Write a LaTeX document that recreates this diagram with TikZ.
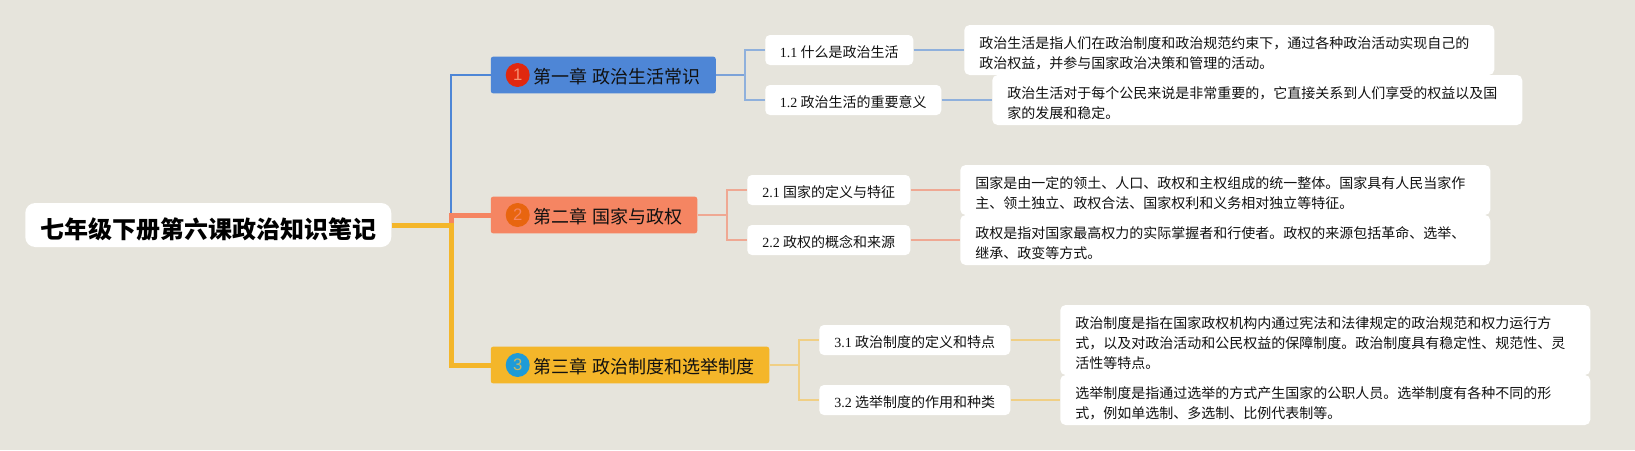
\documentclass[tikz,border=0pt]{standalone}
\usepackage{fontspec}
\setmainfont{Noto Sans CJK SC}
\newfontfamily\latinpart{Liberation Serif}
\newfontfamily\numpart{Liberation Sans}
\definecolor{bgc}{HTML}{E6E4DC}
\definecolor{bluec}{HTML}{4E86D6}
\definecolor{orangec}{HTML}{F58562}
\definecolor{yellowc}{HTML}{F4B62A}
\definecolor{bluel}{HTML}{8FB0DC}
\definecolor{orangel}{HTML}{EFA893}
\definecolor{yellowl}{HTML}{F0CF85}
\definecolor{inkc}{HTML}{111111}
\definecolor{dotred}{HTML}{E0280F}
\definecolor{dotorange}{HTML}{E8650F}
\definecolor{dotblue}{HTML}{1E9BD7}
\tikzset{
  x=0.75pt,y=-0.75pt,
  rootbox/.style={anchor=west,fill=white,rounded corners=7.5pt,minimum height=33pt,minimum width=274.5pt,inner sep=0pt,
    text height=22pt,text depth=2pt,font=\fontsize{18}{22}\selectfont\bfseries,text=black},
  chapbox/.style={anchor=west,rounded corners=1.8pt,minimum height=27.5pt,inner ysep=0pt,inner xsep=3.75pt,align=left,
    text width=#1*0.75pt-7.5pt,font=\fontsize{13.5}{16}\selectfont,text=inkc,execute at begin node={\rule{0pt}{14.1pt}}},
  subbox/.style={anchor=west,fill=white,rounded corners=3.5pt,minimum height=22.5pt,inner sep=0pt,
    text height=13pt,text depth=2pt,minimum width=#1*0.75pt,font=\fontsize{10.5}{13}\selectfont,text=inkc},
  detailbox/.style={anchor=west,fill=white,rounded corners=4pt,inner ysep=0pt,inner xsep=11.25pt,align=left,
    text width=#1*0.75pt-22.5pt,font=\fontsize{10.5}{15}\selectfont,text=inkc,execute at begin node={\rule{0pt}{13.8pt}}},
  numdot/.style={circle,minimum size=18pt,inner sep=0pt,font=\fontsize{12.5}{13}\selectfont\numpart},
  trunk/.style={line width=3.75pt},
  twig/.style={line width=1.5pt},
}
\newcommand{\chgap}{\hspace{0.27em}}
\newcommand{\fwc}{\char"FF0C\relax}
\begin{document}
\begin{tikzpicture}
\useasboundingbox[fill=bgc] (0,0) rectangle (1635,450);
\node[rootbox] (root) at (25,225) {七年级下册第六课政治知识笔记};

\node[chapbox=225,fill=bluec] (c1) at (490.5,75) {\hspace*{28.1pt}第一章\chgap{}政治生活常识};
\node[chapbox=206.5,fill=orangec] (c2) at (490.5,215) {\hspace*{28.1pt}第二章\chgap{}国家与政权};
\node[chapbox=278.5,fill=yellowc] (c3) at (490.5,365) {\hspace*{28.1pt}第三章\chgap{}政治制度和选举制度};
\node[numdot,fill=dotred,text=orangec!90!white] (n1) at (517.7,75) {1};
\node[numdot,fill=dotorange,text=orangec] (n2) at (517.7,215) {2};
\node[numdot,fill=dotblue,text=yellowc!75!dotblue!90!white] (n3) at (517.7,365) {3};

\node[subbox=148] (s11) at (765,50) {{\latinpart 1.1} 什么是政治生活};
\node[subbox=176] (s12) at (765,100) {{\latinpart 1.2} 政治生活的重要意义};
\node[subbox=163] (s21) at (747,190) {{\latinpart 2.1} 国家的定义与特征};
\node[subbox=163] (s22) at (747,240) {{\latinpart 2.2} 政权的概念和来源};
\node[subbox=191] (s31) at (819,340) {{\latinpart 3.1} 政治制度的定义和特点};
\node[subbox=191] (s32) at (819,400) {{\latinpart 3.2} 选举制度的作用和种类};

\node[detailbox=530,minimum height=37.5pt] (d11) at (964,50) {政治生活是指人们在政治制度和政治规范约束下\fwc{}通过各种政治活动实现自己的\\政治权益\fwc{}并参与国家政治决策和管理的活动。};
\node[detailbox=530,minimum height=37.5pt] (d12) at (992,100) {政治生活对于每个公民来说是非常重要的\fwc{}它直接关系到人们享受的权益以及国\\家的发展和稳定。};
\node[detailbox=530,minimum height=37.5pt] (d21) at (960,190) {国家是由一定的领土、人口、政权和主权组成的统一整体。国家具有人民当家作\\主、领土独立、政权合法、国家权利和义务相对独立等特征。};
\node[detailbox=530,minimum height=37.5pt] (d22) at (960,240) {政权是指对国家最高权力的实际掌握者和行使者。政权的来源包括革命、选举、\\继承、政变等方式。};
\node[detailbox=530,minimum height=52.5pt] (d31) at (1060,340) {政治制度是指在国家政权机构内通过宪法和法律规定的政治规范和权力运行方\\式\fwc{}以及对政治活动和公民权益的保障制度。政治制度具有稳定性、规范性、灵\\活性等特点。};
\node[detailbox=530,minimum height=37.5pt] (d32) at (1060,400) {选举制度是指通过选举的方式产生国家的公职人员。选举制度有各种不同的形\\式\fwc{}例如单选制、多选制、比例代表制等。};

\coordinate (hub) at (451,225);
\coordinate (e1) at (745,75);
\coordinate (e2) at (726.5,215);
\coordinate (e3) at (799,365);

\draw[line width=1.9pt,bluec] (hub) |- (c1.west);
\draw[trunk,orangec] (hub) |- (c2.west);
\draw[trunk,yellowc] (root.east) -- (hub) |- (c3.west);

\draw[twig,bluec!70!bgc] (c1.east) -- (e1);
\draw[twig,bluel] (e1) |- (s11.west);
\draw[twig,bluel] (e1) |- (s12.west);
\draw[twig,orangel] (c2.east) -- (e2);
\draw[twig,orangel] (e2) |- (s21.west);
\draw[twig,orangel] (e2) |- (s22.west);
\draw[twig,yellowl] (c3.east) -- (e3);
\draw[twig,yellowl] (e3) |- (s31.west);
\draw[twig,yellowl] (e3) |- (s32.west);

\draw[twig,bluel] (s11.east) -- (d11.west);
\draw[twig,bluel] (s12.east) -- (d12.west);
\draw[twig,orangel] (s21.east) -- (d21.west);
\draw[twig,orangel] (s22.east) -- (d22.west);
\draw[twig,yellowl] (s31.east) -- (d31.west);
\draw[twig,yellowl] (s32.east) -- (d32.west);
\end{tikzpicture}
\end{document}
